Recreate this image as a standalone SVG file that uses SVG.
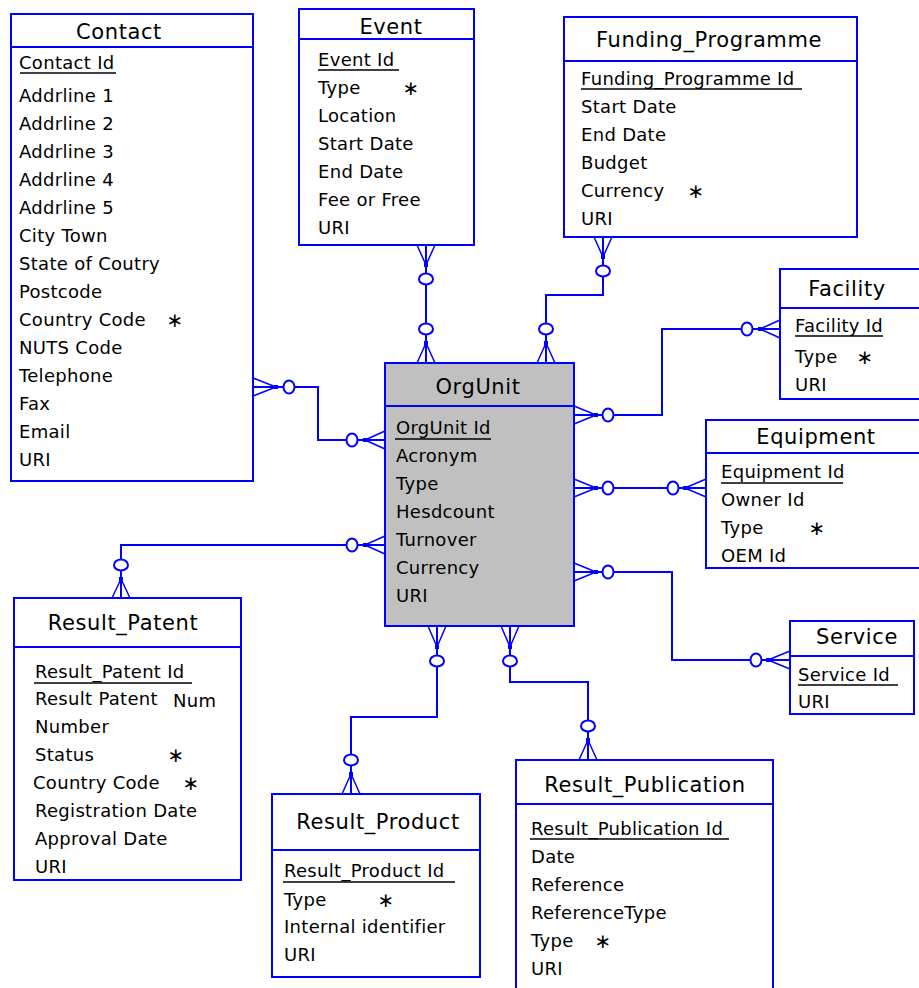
<svg xmlns="http://www.w3.org/2000/svg" width="919" height="988" viewBox="0 0 919 988">
  <style>
    .box { fill: #ffffff; stroke: #0000ff; stroke-width: 2; }
    .org { fill: #c0c0c0; }
    .sep { stroke: #0000ff; stroke-width: 2; }
    text { font-family: "DejaVu Sans", "Liberation Sans", sans-serif; font-size: 18px; letter-spacing: 0.3px; fill: #000000; }
    .title { font-size: 21px; letter-spacing: 0.6px; text-anchor: middle; }
    .star { font-size: 20px; text-anchor: middle; letter-spacing: 0; }
    .pk { stroke: #000000; stroke-width: 1.5; }
    .line { fill: none; stroke: #0000ff; stroke-width: 2; }
    .foot { fill: none; stroke: #0000ff; stroke-width: 1.5; }
    .opt { fill: #ffffff; stroke: #0000ff; stroke-width: 2; }
    .dot { fill: #0000ff; }
  </style>

  <rect width="919" height="988" fill="#ffffff"/>

  <!-- Contact -->
  <g id="contact">
    <rect class="box" x="11" y="14" width="242" height="467"/>
    <line class="sep" x1="11" y1="47" x2="253" y2="47"/>
    <text class="title" x="119" y="39">Contact</text>
    <text x="19" y="69">Contact Id</text>
    <line class="pk" x1="20" y1="73" x2="116" y2="73"/>
    <text x="19" y="102">Addrline 1</text>
    <text x="19" y="130">Addrline 2</text>
    <text x="19" y="158">Addrline 3</text>
    <text x="19" y="186">Addrline 4</text>
    <text x="19" y="214">Addrline 5</text>
    <text x="19" y="242">City Town</text>
    <text x="19" y="270">State of Coutry</text>
    <text x="19" y="298">Postcode</text>
    <text x="19" y="326">Country Code</text>
    <text class="star" x="175" y="327">∗</text>
    <text x="19" y="354">NUTS Code</text>
    <text x="19" y="382">Telephone</text>
    <text x="19" y="410">Fax</text>
    <text x="19" y="438">Email</text>
    <text x="19" y="466">URI</text>
  </g>

  <!-- Event -->
  <g id="event">
    <rect class="box" x="299" y="9" width="175" height="236"/>
    <line class="sep" x1="299" y1="39" x2="474" y2="39"/>
    <text class="title" x="391" y="34">Event</text>
    <text x="318" y="66">Event Id</text>
    <line class="pk" x1="318" y1="70" x2="399" y2="70"/>
    <text x="318" y="94">Type</text>
    <text class="star" x="411" y="95">∗</text>
    <text x="318" y="122">Location</text>
    <text x="318" y="150">Start Date</text>
    <text x="318" y="178">End Date</text>
    <text x="318" y="206">Fee or Free</text>
    <text x="318" y="234">URI</text>
  </g>

  <!-- Funding_Programme -->
  <g id="funding-programme">
    <rect class="box" x="564" y="17" width="293" height="220"/>
    <line class="sep" x1="564" y1="61" x2="857" y2="61"/>
    <text class="title" x="709" y="47">Funding_Programme</text>
    <text x="581" y="85">Funding_Programme Id</text>
    <line class="pk" x1="581" y1="89" x2="802" y2="89"/>
    <text x="581" y="113">Start Date</text>
    <text x="581" y="141">End Date</text>
    <text x="581" y="169">Budget</text>
    <text x="581" y="197">Currency</text>
    <text class="star" x="696" y="198">∗</text>
    <text x="581" y="225">URI</text>
  </g>

  <!-- Facility -->
  <g id="facility">
    <rect class="box" x="780" y="269" width="150" height="130"/>
    <line class="sep" x1="780" y1="308" x2="930" y2="308"/>
    <text class="title" x="847" y="296">Facility</text>
    <text x="795" y="332">Facility Id</text>
    <line class="pk" x1="795" y1="336" x2="883" y2="336"/>
    <text x="795" y="363">Type</text>
    <text class="star" x="865" y="364">∗</text>
    <text x="795" y="391">URI</text>
  </g>

  <!-- Equipment -->
  <g id="equipment">
    <rect class="box" x="706" y="420" width="224" height="148"/>
    <line class="sep" x1="706" y1="453" x2="930" y2="453"/>
    <text class="title" x="816" y="444">Equipment</text>
    <text x="721" y="478">Equipment Id</text>
    <line class="pk" x1="721" y1="483" x2="843" y2="483"/>
    <text x="721" y="506">Owner Id</text>
    <text x="721" y="534">Type</text>
    <text class="star" x="817" y="535">∗</text>
    <text x="721" y="562">OEM Id</text>
  </g>

  <!-- Service -->
  <g id="service">
    <rect class="box" x="790" y="621" width="124" height="93"/>
    <line class="sep" x1="790" y1="656" x2="914" y2="656"/>
    <text class="title" x="857" y="644">Service</text>
    <text x="798" y="681">Service Id</text>
    <line class="pk" x1="798" y1="685" x2="898" y2="685"/>
    <text x="798" y="708">URI</text>
  </g>

  <!-- OrgUnit -->
  <g id="orgunit">
    <rect class="box org" x="385" y="363" width="189" height="263"/>
    <line class="sep" x1="385" y1="406" x2="574" y2="406"/>
    <text class="title" x="478" y="394">OrgUnit</text>
    <text x="396" y="434">OrgUnit Id</text>
    <line class="pk" x1="395" y1="439" x2="491" y2="439"/>
    <text x="396" y="462">Acronym</text>
    <text x="396" y="490">Type</text>
    <text x="396" y="518">Hesdcount</text>
    <text x="396" y="546">Turnover</text>
    <text x="396" y="574">Currency</text>
    <text x="396" y="602">URI</text>
  </g>

  <!-- Result_Patent -->
  <g id="result-patent">
    <rect class="box" x="14" y="598" width="227" height="282"/>
    <line class="sep" x1="14" y1="647" x2="241" y2="647"/>
    <text class="title" x="123" y="630">Result_Patent</text>
    <text x="35" y="678">Result_Patent Id</text>
    <line class="pk" x1="34" y1="683" x2="192" y2="683"/>
    <text x="35" y="705">Result Patent</text>
    <text x="173" y="707">Num</text>
    <text x="35" y="733">Number</text>
    <text x="35" y="761">Status</text>
    <text class="star" x="176" y="762">∗</text>
    <text x="33" y="789">Country Code</text>
    <text class="star" x="191" y="790">∗</text>
    <text x="35" y="817">Registration Date</text>
    <text x="35" y="845">Approval Date</text>
    <text x="35" y="873">URI</text>
  </g>

  <!-- Result_Product -->
  <g id="result-product">
    <rect class="box" x="272" y="794" width="208" height="183"/>
    <line class="sep" x1="272" y1="850" x2="480" y2="850"/>
    <text class="title" x="378" y="829">Result_Product</text>
    <text x="284" y="877">Result_Product Id</text>
    <line class="pk" x1="283" y1="882" x2="455" y2="882"/>
    <text x="284" y="906">Type</text>
    <text class="star" x="386" y="907">∗</text>
    <text x="284" y="933">Internal identifier</text>
    <text x="284" y="961">URI</text>
  </g>

  <!-- Result_Publication -->
  <g id="result-publication">
    <rect class="box" x="516" y="760" width="257" height="250"/>
    <line class="sep" x1="516" y1="804" x2="773" y2="804"/>
    <text class="title" x="645" y="792">Result_Publication</text>
    <text x="531" y="835">Result_Publication Id</text>
    <line class="pk" x1="530" y1="839" x2="729" y2="839"/>
    <text x="531" y="863">Date</text>
    <text x="531" y="891">Reference</text>
    <text x="531" y="919">ReferenceType</text>
    <text x="531" y="947">Type</text>
    <text class="star" x="603" y="948">∗</text>
    <text x="531" y="975">URI</text>
  </g>

  <!-- Relationships: zero-or-many at both ends -->
  <g id="connectors">
    <!-- Event - OrgUnit -->
    <path class="line" d="M426 245 V363"/>
    <path class="foot" d="M417 245 L426 265 M435 245 L426 265 M417 363 L426 343 M435 363 L426 343"/>
    <!-- Funding_Programme - OrgUnit -->
    <path class="line" d="M603 237 V295 H546 V363"/>
    <path class="foot" d="M594 237 L603 257 M612 237 L603 257 M537 363 L546 343 M555 363 L546 343"/>
    <!-- Contact - OrgUnit -->
    <path class="line" d="M253 387 H318 V440 H385"/>
    <path class="foot" d="M253 378 L276 387 M253 396 L276 387 M385 431 L365 440 M385 449 L365 440"/>
    <!-- Result_Patent - OrgUnit -->
    <path class="line" d="M385 545 H121 V598"/>
    <path class="foot" d="M385 536 L365 545 M385 554 L365 545 M112 598 L121 579 M130 598 L121 579"/>
    <!-- Facility - OrgUnit -->
    <path class="line" d="M574 415 H662 V329 H780"/>
    <path class="foot" d="M574 406 L596 415 M574 424 L596 415 M780 320 L760 329 M780 338 L760 329"/>
    <!-- Equipment - OrgUnit -->
    <path class="line" d="M574 488 H706"/>
    <path class="foot" d="M574 479 L596 488 M574 497 L596 488 M706 479 L685 488 M706 497 L685 488"/>
    <!-- Service - OrgUnit -->
    <path class="line" d="M574 572 H672 V660 H790"/>
    <path class="foot" d="M574 563 L596 572 M574 581 L596 572 M790 651 L768 660 M790 669 L768 660"/>
    <!-- Result_Product - OrgUnit -->
    <path class="line" d="M437 626 V717 H351 V794"/>
    <path class="foot" d="M428 626 L437 647 M446 626 L437 647 M342 794 L351 774 M360 794 L351 774"/>
    <!-- Result_Publication - OrgUnit -->
    <path class="line" d="M510 626 V682 H588 V760"/>
    <path class="foot" d="M501 626 L510 647 M519 626 L510 647 M579 760 L588 740 M597 760 L588 740"/>

    <!-- junction dots -->
    <g class="dot">
      <rect x="424" y="263" width="4" height="4"/>
      <rect x="424" y="341" width="4" height="4"/>
      <rect x="601" y="255" width="4" height="4"/>
      <rect x="544" y="341" width="4" height="4"/>
      <rect x="274" y="385" width="4" height="4"/>
      <rect x="363" y="438" width="4" height="4"/>
      <rect x="363" y="543" width="4" height="4"/>
      <rect x="119" y="577" width="4" height="4"/>
      <rect x="594" y="413" width="4" height="4"/>
      <rect x="758" y="327" width="4" height="4"/>
      <rect x="594" y="486" width="4" height="4"/>
      <rect x="683" y="486" width="4" height="4"/>
      <rect x="594" y="570" width="4" height="4"/>
      <rect x="766" y="658" width="4" height="4"/>
      <rect x="435" y="645" width="4" height="4"/>
      <rect x="349" y="772" width="4" height="4"/>
      <rect x="508" y="645" width="4" height="4"/>
      <rect x="586" y="738" width="4" height="4"/>
    </g>

    <!-- optionality circles -->
    <g class="opt">
      <ellipse cx="426" cy="279" rx="7" ry="5.5"/>
      <ellipse cx="426" cy="329" rx="7" ry="5.5"/>
      <ellipse cx="603" cy="271" rx="7" ry="5.5"/>
      <ellipse cx="546" cy="329" rx="7" ry="5.5"/>
      <ellipse cx="289" cy="387" rx="5.5" ry="6.5"/>
      <ellipse cx="352" cy="440" rx="5.5" ry="6.5"/>
      <ellipse cx="352" cy="545" rx="5.5" ry="6.5"/>
      <ellipse cx="121" cy="565" rx="7" ry="5.5"/>
      <ellipse cx="608" cy="415" rx="5.5" ry="6.5"/>
      <ellipse cx="747" cy="329" rx="5.5" ry="6.5"/>
      <ellipse cx="608" cy="488" rx="5.5" ry="6.5"/>
      <ellipse cx="673" cy="488" rx="5.5" ry="6.5"/>
      <ellipse cx="608" cy="572" rx="5.5" ry="6.5"/>
      <ellipse cx="756" cy="660" rx="5.5" ry="6.5"/>
      <ellipse cx="437" cy="661" rx="7" ry="5.5"/>
      <ellipse cx="351" cy="760" rx="7" ry="5.5"/>
      <ellipse cx="510" cy="661" rx="7" ry="5.5"/>
      <ellipse cx="588" cy="726" rx="7" ry="5.5"/>
    </g>
  </g>
</svg>
